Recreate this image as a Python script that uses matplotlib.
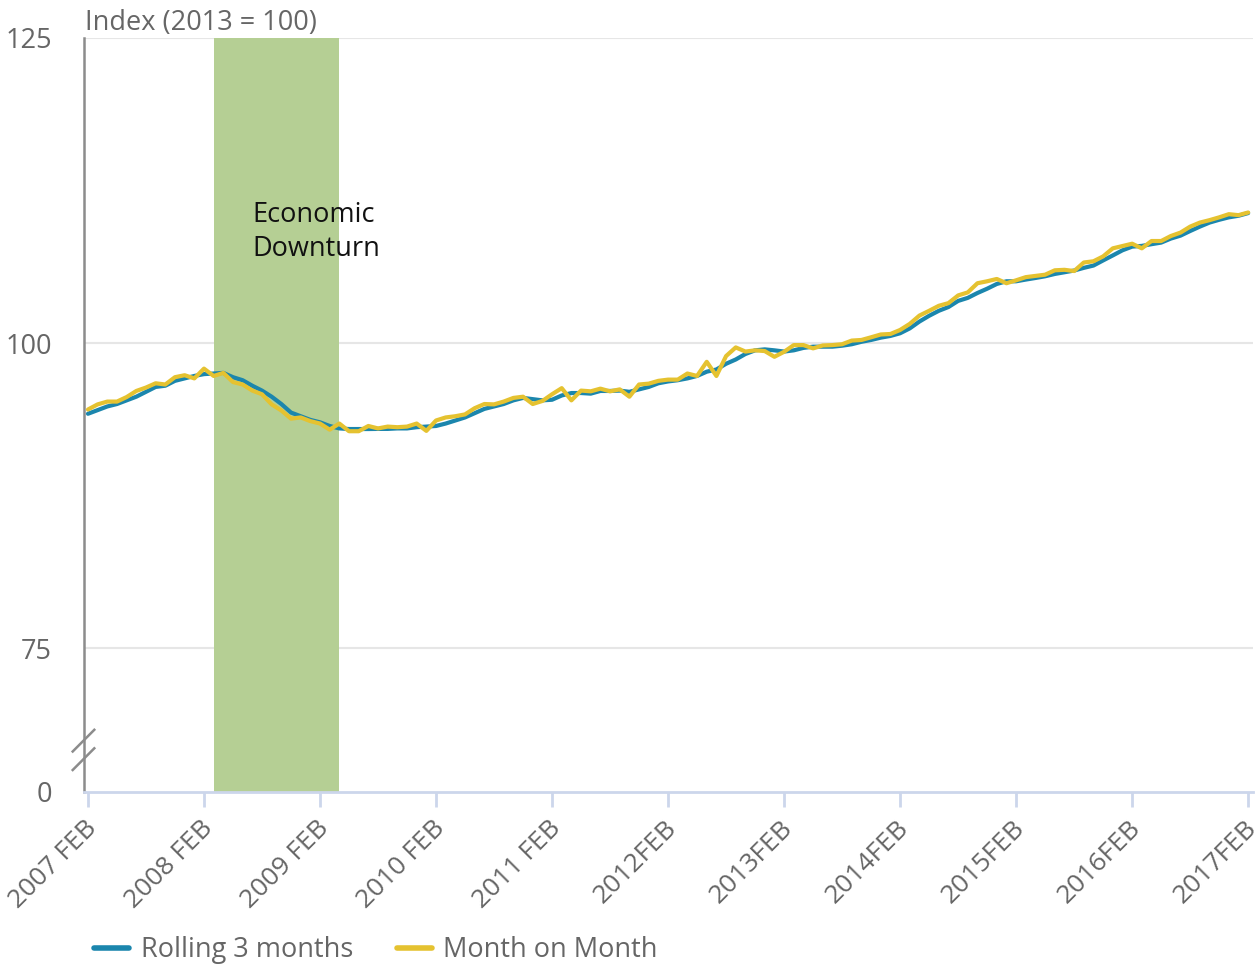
import matplotlib
matplotlib.use("Agg")
import matplotlib.pyplot as plt
from matplotlib.lines import Line2D
from matplotlib.transforms import ScaledTranslation

plt.rcParams['font.family'] = ['Open Sans', 'DejaVu Sans']

# Monthly data, 2007 FEB .. 2017 FEB (121 months)
rolling_3m = [
    94.2, 94.5, 94.8, 95.0, 95.3, 95.6, 96.0, 96.4, 96.5, 96.9,
    97.1, 97.3, 97.45, 97.5, 97.55, 97.2, 96.95, 96.5, 96.1, 95.6,
    95.0, 94.3, 94.0, 93.7, 93.5, 93.2, 93.0, 92.95, 92.95, 92.95,
    92.96, 92.96, 93.0, 93.0, 93.1, 93.15, 93.2, 93.4, 93.65, 93.9,
    94.25, 94.6, 94.8, 95.0, 95.3, 95.5, 95.4, 95.3, 95.35, 95.7,
    95.9, 95.9, 95.85, 96.07, 96.07, 96.1, 96.0, 96.2, 96.4, 96.7,
    96.85, 96.95, 97.1, 97.3, 97.65, 97.83, 98.3, 98.65, 99.1, 99.4,
    99.48, 99.4, 99.3, 99.4, 99.6, 99.7, 99.7, 99.7, 99.78, 99.9,
    100.1, 100.25, 100.44, 100.58, 100.8, 101.2, 101.76, 102.23, 102.64, 102.95,
    103.45, 103.7, 104.1, 104.45, 104.84, 105.06, 105.06, 105.2, 105.33, 105.47,
    105.66, 105.8, 105.94, 106.16, 106.35, 106.77, 107.18, 107.6, 107.9, 107.96,
    108.1, 108.23, 108.56, 108.8, 109.18, 109.54, 109.87, 110.1, 110.3, 110.43,
    110.65,
]
month_on_month = [
    94.55, 94.97, 95.2, 95.2, 95.57, 96.07, 96.35, 96.7, 96.6, 97.2,
    97.36, 97.1, 97.9, 97.3, 97.55, 96.8, 96.6, 96.1, 95.8, 94.97,
    94.47, 93.8, 93.9, 93.6, 93.4, 92.9, 93.4, 92.77, 92.77, 93.2,
    93.0, 93.15, 93.1, 93.15, 93.4, 92.8, 93.65, 93.9, 94.0, 94.15,
    94.66, 95.0, 94.97, 95.2, 95.5, 95.6, 95.0, 95.25, 95.8, 96.3,
    95.3, 96.1, 96.04, 96.26, 96.04, 96.2, 95.6, 96.6, 96.67, 96.9,
    97.0, 97.0, 97.5, 97.3, 98.46, 97.3, 98.93, 99.64, 99.3, 99.4,
    99.34, 98.87, 99.28, 99.83, 99.83, 99.56, 99.8, 99.83, 99.9, 100.2,
    100.25, 100.47, 100.7, 100.74, 101.07, 101.57, 102.25, 102.64, 103.05, 103.27,
    103.9, 104.15, 104.9, 105.06, 105.25, 104.9, 105.14, 105.4, 105.5, 105.6,
    105.96, 106.0, 105.9, 106.6, 106.7, 107.1, 107.76, 107.95, 108.14, 107.76,
    108.36, 108.36, 108.77, 109.05, 109.54, 109.87, 110.07, 110.3, 110.56, 110.48,
    110.7,
]
months = list(range(len(rolling_3m)))

tick_positions = [0, 12, 24, 36, 48, 60, 72, 84, 96, 108, 120]
tick_labels = ["2007 FEB", "2008 FEB", "2009 FEB", "2010 FEB", "2011 FEB",
               "2012FEB", "2013FEB", "2014FEB", "2015FEB", "2016FEB", "2017FEB"]

y_ticks = [75, 100, 125]
y_break_value = 63.2   # value shown as "0" at the bottom (broken axis)

downturn_start, downturn_end = 13, 26
downturn_label = "Economic\nDownturn"

series_names = ["Rolling 3 months", "Month on Month"]
BLUE = "#1b86ad"
YELLOW = "#e5c230"
GREEN = "#b5cf94"
GREY_TXT = "#666666"
FS = 19.5

fig = plt.figure(figsize=(12.6, 9.66), dpi=100)
ax = fig.add_axes([84/1260, (966-792)/966, (1253-84)/1260, (792-38)/966])

ax.set_xlim(-0.41, 120.5)
ax.set_ylim(y_break_value, 125)

for yv in y_ticks:
    ax.axhline(yv, color="#e6e6e6", lw=1.5, zorder=0)

ax.axvspan(downturn_start, downturn_end, color=GREEN, zorder=1, lw=0)
ax.text(downturn_start + 4.05, 109.1, downturn_label, fontsize=FS, color="#111111",
        va="center", ha="left", linespacing=1.3, zorder=5)

l1, = ax.plot(months, rolling_3m, color=BLUE, lw=3, zorder=3, solid_capstyle="round")
l2, = ax.plot(months, month_on_month, color=YELLOW, lw=3, zorder=4, solid_capstyle="round")

for s in ["top", "right"]:
    ax.spines[s].set_visible(False)
ax.spines["left"].set_color("#8c8c8c")
ax.spines["left"].set_linewidth(1.8)
ax.spines["bottom"].set_color("#ccd6eb")
ax.spines["bottom"].set_linewidth(2)

ax.set_yticks([y_break_value] + y_ticks)
ax.set_yticklabels(["0"] + [str(v) for v in y_ticks])
ax.tick_params(axis="y", length=0, pad=23, labelsize=FS, labelcolor=GREY_TXT)

ax.set_xticks(tick_positions)
ax.set_xticklabels(tick_labels, rotation=45, ha="right", va="top",
                   rotation_mode="anchor")
ax.tick_params(axis="x", length=11, width=2, color="#ccd6eb", pad=4,
               labelsize=19, labelcolor=GREY_TXT)
for lab in ax.get_xticklabels():
    lab.set_transform(lab.get_transform() + ScaledTranslation(-4/100, -3/100, fig.dpi_scale_trans))

# axis break marks
for y0 in (751.5, 770):
    fig.add_artist(Line2D([72.7/1260, 94.3/1260], [1 - y0/966, 1 - (y0-21.7)/966],
                          color="#8c8c8c", lw=1.8, transform=fig.transFigure))

fig.text(85/1260, 1 - 23/966, "Index (2013 = 100)", fontsize=FS, color=GREY_TXT,
         ha="left", va="center")

fig.legend([l1, l2], series_names, loc="center left",
           bbox_to_anchor=(94/1260, 1 - 950/966), ncol=2, frameon=False,
           fontsize=FS, labelcolor=GREY_TXT, handlelength=1.3, handletextpad=0.42,
           columnspacing=1.62, borderpad=0, borderaxespad=0)
for h in fig.legends[0].legend_handles:
    h.set_linewidth(4)

fig.savefig("out.png", dpi=100)
